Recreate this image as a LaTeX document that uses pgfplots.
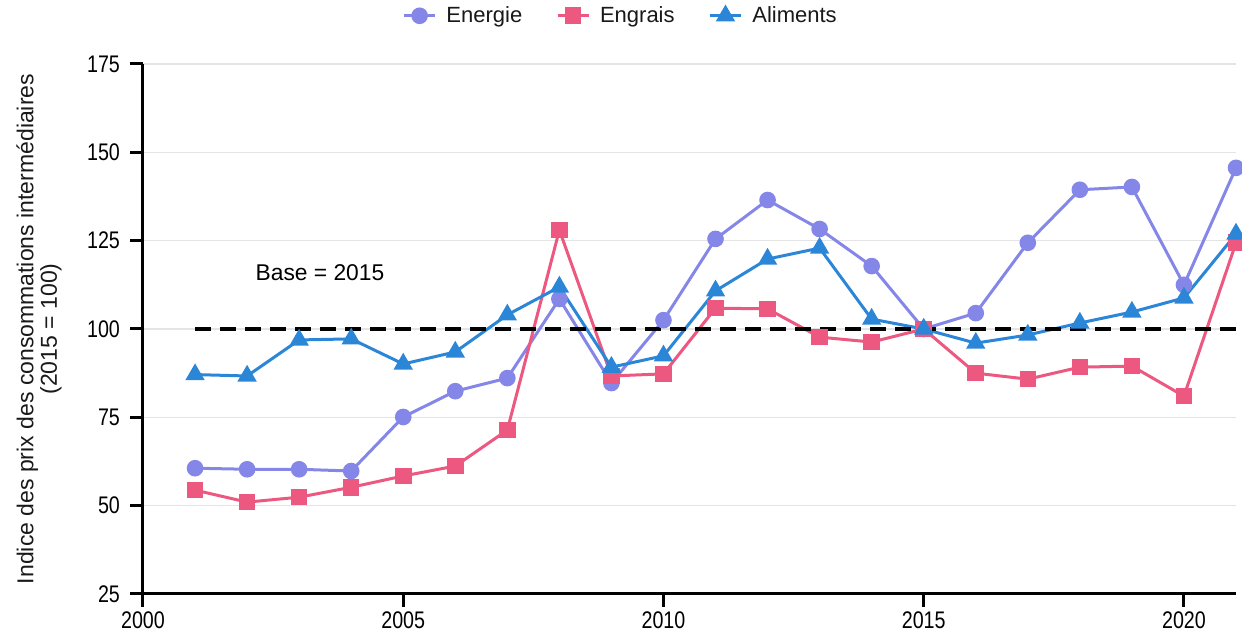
\documentclass[border=0pt]{standalone}
\usepackage{fontspec}
\setmainfont{Liberation Sans}
\newfontfamily\tickfont[FakeStretch=0.82]{Liberation Sans}
\usepackage{pgfplots}
\pgfplotsset{compat=1.18}
\definecolor{energie}{RGB}{133,135,232}
\definecolor{engrais}{RGB}{236,88,128}
\definecolor{aliments}{RGB}{44,134,216}
\definecolor{gridgray}{RGB}{228,228,228}

\begin{document}
\begin{tikzpicture}
\begin{axis}[
    name=ax,
    scale only axis,
    width=546.5pt, height=265pt,
    xmin=2000, xmax=2021,
    ymin=25, ymax=175,
    xtick={2000,2005,...,2020},
    ytick={25,50,...,175},
    axis x line*=bottom,
    axis y line*=left,
    axis line style={-, line width=1.5pt, black},
    tick style={line width=1.5pt, black},
    major tick length=6.5pt,
    tick align=outside,
    ymajorgrids,
    grid style={gridgray, line width=0.6pt},
    /pgf/number format/assume math mode=true,
    /pgf/number format/1000 sep={},
    ticklabel style={font=\tickfont\fontsize{12}{13}\selectfont, text=black},
    yticklabel style={xshift=-1.5pt},
    xticklabel style={yshift=1pt},
    ylabel={Indice des prix des consommations intermédiaires\\(2015 = 100)},
    ylabel style={at={(axis description cs:-0.068,0.5)}, anchor=south, align=center,
        font=\fontsize{11.5}{10.5}\selectfont, text=black!90},
    legend style={at={(axis description cs:0.438,1.091)}, anchor=center, draw=none,
        legend columns=-1, font=\fontsize{11}{13}\selectfont, text=black!90,
        /tikz/every odd column/.append style={column sep=3pt},
        /tikz/every even column/.append style={column sep=15pt}},
    legend image code/.code={\draw[mark repeat=2,mark phase=2]
        plot coordinates {(0cm,0cm) (0.27cm,0cm) (0.54cm,0cm)};},
    every axis plot/.append style={line width=1.5pt},
]
\addplot[energie, mark=*, mark size=3.4pt, mark options={solid, fill=energie, draw=energie}] coordinates {
    (2001,60.6) (2002,60.3) (2003,60.3) (2004,59.8) (2005,75.1) (2006,82.4) (2007,86.1)
    (2008,108.5) (2009,84.7) (2010,102.5) (2011,125.5) (2012,136.5) (2013,128.3)
    (2014,117.8) (2015,100) (2016,104.5) (2017,124.4) (2018,139.4) (2019,140.2)
    (2020,112.5) (2021,145.6)
};
\addlegendentry{Energie}
\addplot[engrais, mark=square*, mark size=3.4pt, mark options={solid, fill=engrais, draw=engrais}] coordinates {
    (2001,54.4) (2002,51.0) (2003,52.4) (2004,55.2) (2005,58.4) (2006,61.2) (2007,71.4)
    (2008,128.0) (2009,86.7) (2010,87.3) (2011,105.9) (2012,105.7) (2013,97.7)
    (2014,96.3) (2015,100) (2016,87.5) (2017,85.8) (2018,89.2) (2019,89.5)
    (2020,81.0) (2021,124.4)
};
\addlegendentry{Engrais}
\addplot[aliments, mark=triangle*, mark size=4.1pt, mark options={solid, fill=aliments, draw=aliments}] coordinates {
    (2001,87.1) (2002,86.7) (2003,96.9) (2004,97.2) (2005,90.1) (2006,93.5) (2007,104.0)
    (2008,111.9) (2009,89.2) (2010,92.4) (2011,110.8) (2012,119.8) (2013,122.9)
    (2014,102.8) (2015,100) (2016,96.0) (2017,98.3) (2018,101.7) (2019,104.8)
    (2020,108.8) (2021,126.9)
};
\addlegendentry{Aliments}
\addplot[black, line width=1.8pt, dash pattern=on 8pt off 4.5pt, forget plot] coordinates {
    (2001,100) (2021,100)
};
\node[font=\fontsize{11.4}{13}\selectfont, text=black] at (axis cs:2003.4,115.9) {Base = 2015};
\end{axis}
\pgfresetboundingbox
\path (ax.south west) ++(-71.5pt,-18.5pt) coordinate (bl);
\path (ax.north east) ++(3pt,32pt) coordinate (tr);
\path (bl) rectangle (tr);
\end{tikzpicture}
\end{document}
